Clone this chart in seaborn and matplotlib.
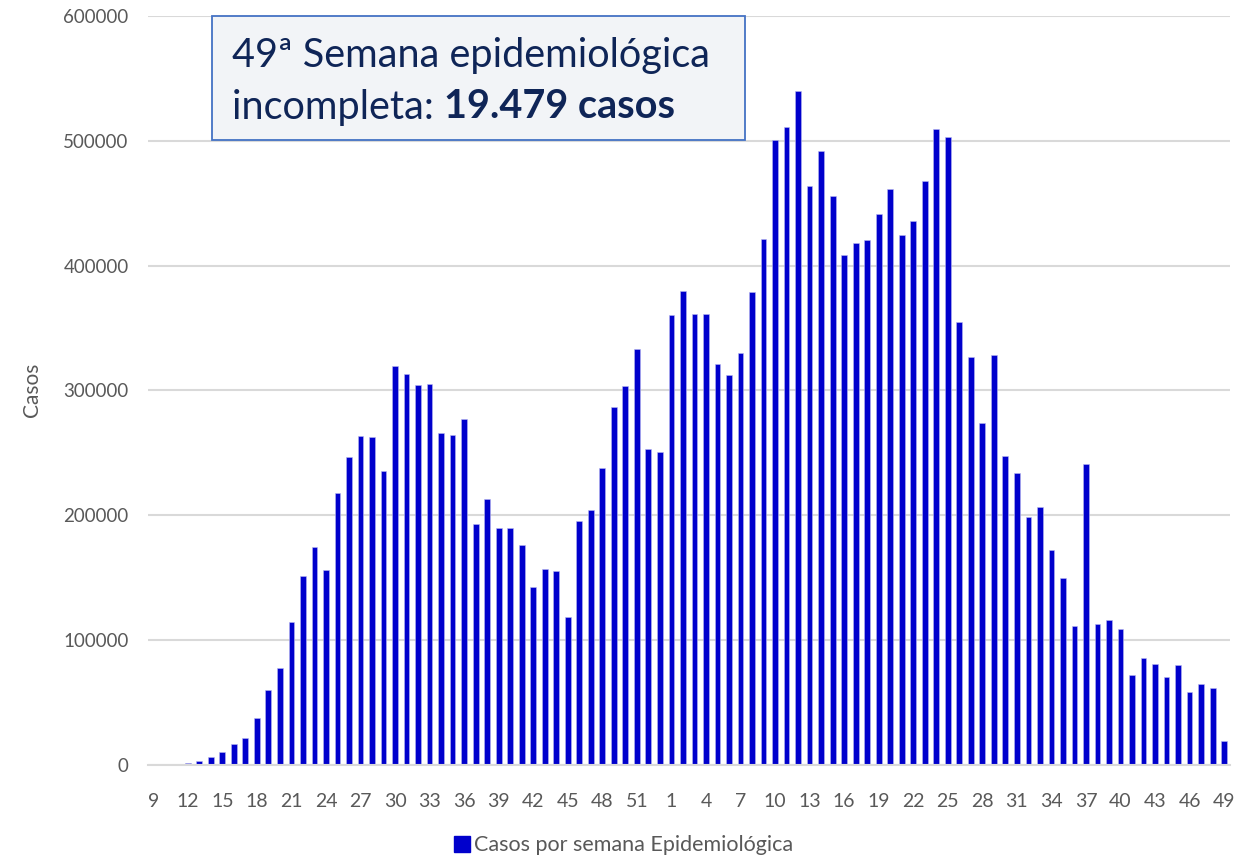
import pandas as pd
import numpy as np
import matplotlib
matplotlib.use("Agg")
import matplotlib.pyplot as plt
from matplotlib.patches import Patch
import seaborn as sns

# --- Semanas epidemiológicas (2020: 9-53, 2021: 1-49) ---
semanas_2020 = [9, 10, 11, 12, 13, 14, 15, 16, 17, 18, 19, 20, 21, 22, 23, 24, 25, 26, 27, 28,
                29, 30, 31, 32, 33, 34, 35, 36, 37, 38, 39, 40, 41, 42, 43, 44, 45, 46, 47, 48,
                49, 50, 51, 52, 53]
casos_2020 = [100, 200, 500, 1500, 3000, 6700, 10700, 16600, 22000, 38000,
              59800, 77500, 114600, 151600, 174900, 156500, 217500, 246600, 263400, 263000,
              235300, 320000, 313500, 304700, 304800, 265600, 264000, 277300, 193200, 213200,
              190100, 189500, 176000, 142400, 156800, 155200, 118300, 195800, 204200, 237800,
              287100, 303300, 333300, 252900, 251000]

semanas_2021 = [1, 2, 3, 4, 5, 6, 7, 8, 9, 10, 11, 12, 13, 14, 15, 16, 17, 18, 19, 20,
                21, 22, 23, 24, 25, 26, 27, 28, 29, 30, 31, 32, 33, 34, 35, 36, 37, 38, 39, 40,
                41, 42, 43, 44, 45, 46, 47, 48, 49]
casos_2021 = [360200, 379500, 361500, 361000, 321000, 312200, 329800, 378800, 421700, 501000,
              511200, 540300, 463700, 492000, 455400, 408700, 418000, 420400, 441300, 461500,
              424400, 436100, 467700, 509400, 503300, 355100, 327200, 273700, 328400, 247600,
              234200, 198700, 206500, 172500, 149800, 111700, 241400, 113200, 116200, 108700,
              72100, 85500, 81200, 70800, 80100, 58700, 65100, 61900, 19479]

y_ticks = [0, 100000, 200000, 300000, 400000, 500000, 600000]

semanas = semanas_2020 + semanas_2021
df = pd.DataFrame({
    "idx": range(len(semanas)),
    "semana": semanas,
    "casos": casos_2020 + casos_2021,
})

# --- Estilo ---
sns.set_style("white")
plt.rcParams["font.family"] = ["Lato", "DejaVu Sans"]
cinza = "#595959"
azul = "#0000CC"

fig = plt.figure(figsize=(12.47, 8.6), dpi=100)
ax = fig.add_axes([0.1187, 0.1105, 0.8676, 0.8709])

sns.barplot(data=df, x="idx", y="casos", color=azul, width=0.5, saturation=1,
            edgecolor="#B8B8F0", linewidth=0.4, ax=ax)

ax.set_ylim(0, 600000)
ax.set_xlim(-0.45, len(semanas) - 0.5)
ax.set_yticks(y_ticks)
ax.set_yticklabels([str(v) for v in y_ticks], fontsize=13.5, color=cinza)
ax.set_xticks(df["idx"][::3])
ax.set_xticklabels([str(s) for s in df["semana"][::3]], fontsize=14, color=cinza)
ax.tick_params(axis="x", length=0, pad=20)
ax.tick_params(axis="y", length=0, pad=14)

ax.grid(axis="y", color="#D9D9D9", linewidth=1.5)
ax.set_axisbelow(True)
for s in ["top", "right", "left"]:
    ax.spines[s].set_visible(False)
ax.spines["bottom"].set_color("#D9D9D9")
ax.spines["bottom"].set_linewidth(1.5)

ax.set_xlabel("")
ax.set_ylabel("")
fig.text(32 / 1247, 1 - 390 / 860, "Casos", fontsize=15, color=cinza,
         rotation=90, va="center", ha="center")

# caixa de anotação
fig.patches.append(plt.Rectangle((212 / 1247, 1 - 140 / 860), 533 / 1247, 124 / 860,
                                 transform=fig.transFigure, facecolor="#F2F4F7",
                                 edgecolor="#4472C4", linewidth=1.3, zorder=5))
txt_cor = "#0F2557"
fig.text(232 / 1247, 1 - 56 / 860, "49ª Semana epidemiológica", fontsize=28.5,
         color=txt_cor, va="center", ha="left", zorder=6)
t1 = fig.text(232 / 1247, 1 - 107 / 860, "incompleta: ", fontsize=28.5,
              color=txt_cor, va="center", ha="left", zorder=6)
fig.canvas.draw()
bb = t1.get_window_extent().transformed(fig.transFigure.inverted())
fig.text(bb.x1, 1 - 107 / 860, "19.479 casos", fontsize=28.5, fontweight="bold",
         color=txt_cor, va="center", ha="left", zorder=6)

# legenda
fig.legend(handles=[Patch(facecolor=azul, edgecolor=azul, label="Casos por semana Epidemiológica")],
           loc="lower center", bbox_to_anchor=(0.5, -0.017), frameon=False, fontsize=15.5,
           labelcolor=cinza, handlelength=0.75, handleheight=0.75, handletextpad=0.2)

fig.savefig("out.png", dpi=100)
